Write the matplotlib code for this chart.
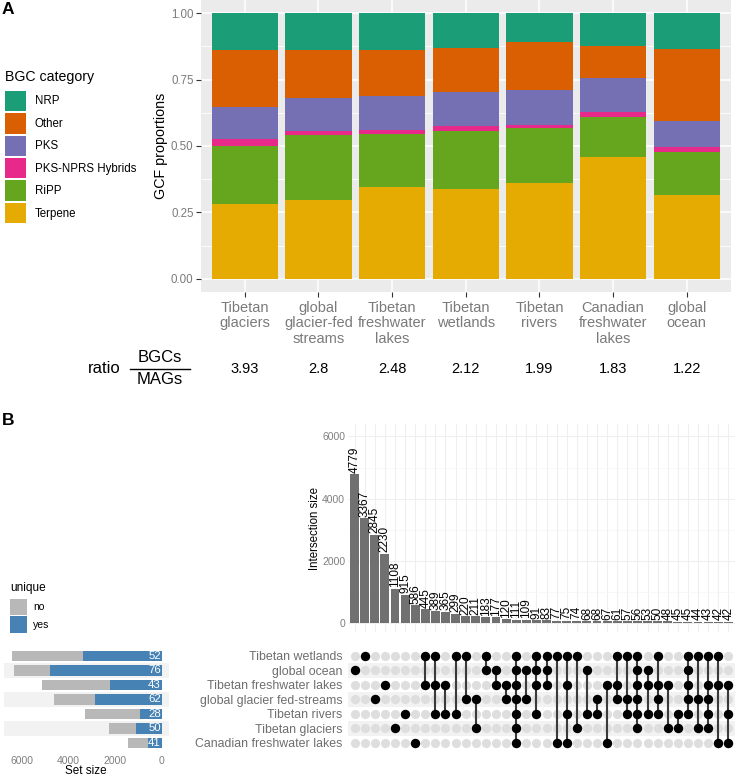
import matplotlib
matplotlib.use("Agg")
import matplotlib.pyplot as plt
from matplotlib.patches import Patch
from matplotlib.lines import Line2D

plt.rcParams['font.family'] = ['Liberation Sans', 'DejaVu Sans']

W, H = 735, 777

# panel A
sites = ["Tibetan\nglaciers", "global\nglacier-fed\nstreams", "Tibetan\nfreshwater\nlakes", "Tibetan\nwetlands",
         "Tibetan\nrivers", "Canadian\nfreshwater\nlakes", "global\nocean"]
ratios = ["3.93", "2.8", "2.48", "2.12", "1.99", "1.83", "1.22"]
categories = ["NRP", "Other", "PKS", "PKS-NPRS Hybrids", "RiPP", "Terpene"]
cat_colors = ["#1B9E77", "#D95F02", "#7570B3", "#E7298A", "#66A61E", "#E6AB02"]
terpene = [0.28, 0.295, 0.345, 0.338, 0.362, 0.457, 0.315]
ripp = [0.22, 0.245, 0.202, 0.217, 0.205, 0.153, 0.162]
hybrids = [0.025, 0.015, 0.015, 0.02, 0.013, 0.017, 0.018]
pks = [0.122, 0.125, 0.128, 0.13, 0.13, 0.13, 0.098]
other = [0.213, 0.183, 0.172, 0.165, 0.183, 0.121, 0.274]
nrp = [0.14, 0.137, 0.138, 0.13, 0.107, 0.122, 0.133]

# panel B
set_names = ["Tibetan wetlands", "global ocean", "Tibetan freshwater lakes", "global glacier fed-streams",
             "Tibetan rivers", "Tibetan glaciers", "Canadian freshwater lakes"]
set_total = [6424, 6310, 5139, 4596, 3284, 2241, 1428]
set_unique = [3367, 4779, 2230, 2845, 915, 1108, 586]
set_pct = [52, 76, 43, 62, 28, 50, 41]
inter_size = [4779, 3367, 2845, 2230, 1108, 915, 586, 445, 389, 365, 299, 220, 211, 183, 177, 120, 111, 109, 91,
              83, 77, 75, 74, 68, 68, 67, 61, 57, 56, 53, 50, 48, 45, 45, 44, 43, 42, 42]
# rows set in each column, 0 = Tibetan wetlands ... 6 = Canadian freshwater lakes
inter_sets = [[1], [0], [3], [2], [5], [4], [6], [0, 2], [0, 2, 4], [2, 4], [0, 4], [0, 3], [3, 5], [0, 1], [1, 2],
              [2, 3], [0, 1, 2, 3, 4, 5, 6], [1, 3], [0, 1, 2, 4], [0, 1, 2], [0, 6], [0, 2, 4, 6], [0, 5], [1, 4],
              [3, 4], [2, 6], [0, 2, 3], [0, 3, 4], [0, 1, 2, 3, 4, 5], [1, 2, 4], [0, 2, 3, 4], [2, 5], [4, 5],
              [0, 1, 2, 3, 4], [0, 3, 5], [0, 2, 3, 4, 5], [0, 2, 6], [2, 4, 6]]


def add_ax(x0, y0, x1, y1):
    # pixel box of the reference, y from the top
    return fig.add_axes([x0 / W, 1 - y1 / H, (x1 - x0) / W, (y1 - y0) / H])


fig = plt.figure(figsize=(W / 100, H / 100), dpi=100)

# ---- A: stacked bars
ax = add_ax(200.5, 0, 731, 292)
ax.set_facecolor("#EBEBEB")
xs = list(range(len(sites)))
stack = [terpene, ripp, hybrids, pks, other, nrp]
bottom = [0] * len(sites)
for vals, col in zip(stack, cat_colors[::-1]):
    ax.bar(xs, vals, 0.9, bottom=bottom, color=col, zorder=3)
    bottom = [b + v for b, v in zip(bottom, vals)]
ax.set_xlim(-0.6, 6.6)
ax.set_ylim(-0.05, 1.05)
ax.set_yticks([0, 0.25, 0.5, 0.75, 1.0], ["0.00", "0.25", "0.50", "0.75", "1.00"])
ax.set_yticks([0.125, 0.375, 0.625, 0.875], minor=True)
ax.set_xticks(xs, sites)
ax.grid(True, which="major", color="white", lw=1.1, zorder=1)
ax.grid(True, which="minor", axis="y", color="white", lw=0.6, zorder=1)
ax.tick_params(axis="y", which="minor", length=0)
ax.tick_params(axis="both", which="major", color="#333333", labelcolor="#7A7A7A", length=3.5, width=0.8)
ax.tick_params(axis="y", labelsize=8.3, pad=1.5)
ax.tick_params(axis="x", labelsize=10.5, pad=3)
for lab in ax.get_xticklabels():
    lab.set_linespacing(1.12)
for s in ax.spines.values():
    s.set_visible(False)
ax.set_ylabel("GCF proportions", fontsize=10.3)
ax.yaxis.set_label_coords(-0.062, 0.5)

for x, r in zip(xs, ratios):
    fig.text((245 + 73.6 * x) / W, 1 - 369 / H, r, fontsize=10.5, ha="center", va="center")
fig.text(88 / W, 1 - 369 / H, "ratio", fontsize=12, ha="left", va="center")
fig.text(160 / W, 1 - 358 / H, "BGCs", fontsize=12, ha="center", va="center")
fig.text(160 / W, 1 - 379 / H, "MAGs", fontsize=12, ha="center", va="center")
fig.add_artist(Line2D([130 / W, 190 / W], [1 - 368.5 / H] * 2, color="black", lw=1))

handles = [Patch(facecolor=c, edgecolor="none", label=n) for c, n in zip(cat_colors, categories)]
leg = fig.legend(handles=handles, title="BGC category", loc="upper left", bbox_to_anchor=(2 / W, 1 - 67 / H),
                 frameon=False, fontsize=8.3, title_fontsize=10.2, handlelength=1.74, handleheight=2.36,
                 labelspacing=0.17, handletextpad=0.78, borderaxespad=0, borderpad=0.3)
leg._legend_box.align = "left"
leg._legend_box.sep = 4.4

# ---- B: intersection bars
cols = list(range(1, len(inter_size) + 1))
ax2 = add_ax(348, 424, 735, 632)
ax2.bar(cols, inter_size, 0.88, color="#707070", zorder=3)
for c, v in zip(cols, inter_size):
    ax2.text(c, v + 40, str(v), rotation=90, ha="center", va="bottom", fontsize=8.5, zorder=4)
ax2.set_xlim(0.35, 38.66)
ax2.set_ylim(-290, 6400)
ax2.set_yticks([0, 2000, 4000, 6000])
ax2.set_yticks([1000, 3000, 5000], minor=True)
ax2.set_xticks(cols, [""] * len(cols))
ax2.grid(True, which="major", color="#EFEFEF", lw=0.8, zorder=1)
ax2.grid(True, which="minor", axis="y", color="#F5F5F5", lw=0.5, zorder=1)
ax2.tick_params(axis="both", which="both", length=0)
ax2.tick_params(axis="y", labelsize=7.5, labelcolor="#7F7F7F", pad=2)
for s in ax2.spines.values():
    s.set_visible(False)
ax2.set_ylabel("Intersection size", fontsize=8.3)
ax2.yaxis.set_label_coords(-0.07, 0.5)

# ---- B: dot matrix
ax3 = add_ax(348, 648.7, 735, 750.2)
rows = list(range(len(set_names)))
for r in rows:
    if r % 2 == 1:
        ax3.axhspan(r - 0.5, r + 0.5, color="#F2F2F2", lw=0, zorder=0)
    ax3.scatter(cols, [r] * len(cols), s=44, color="#DEDEDE", lw=0, zorder=1)
for c, members in zip(cols, inter_sets):
    ax3.plot([c, c], [min(members), max(members)], color="#3A3A3A", lw=1.5, zorder=2)
    ax3.scatter([c] * len(members), members, s=46, color="black", lw=0, zorder=3)
ax3.set_xlim(0.35, 38.66)
ax3.set_ylim(6.5, -0.5)
ax3.set_xticks([])
ax3.set_yticks(rows, set_names)
ax3.tick_params(axis="y", length=0, labelsize=8.9, labelcolor="#6E6E6E", pad=4)
for s in ax3.spines.values():
    s.set_visible(False)

# ---- B: set sizes
ax4 = add_ax(4, 648.7, 169, 750.2)
for r in rows:
    if r % 2 == 1:
        ax4.axhspan(r - 0.5, r + 0.5, color="#F2F2F2", lw=0, zorder=0)
ax4.barh(rows, set_total, 0.72, color="#B8B8B8", zorder=2)
ax4.barh(rows, set_unique, 0.72, color="#4682B4", zorder=3)
for r, p in zip(rows, set_pct):
    ax4.text(40, r, str(p), color="white", ha="right", va="center", fontsize=8.2, zorder=4)
ax4.set_xlim(6754, -313)
ax4.set_ylim(6.5, -0.5)
ax4.set_yticks([])
ax4.set_xticks([6000, 4000, 2000, 0])
ax4.tick_params(axis="x", length=0, labelsize=7.5, labelcolor="#7F7F7F", pad=4)
for s in ax4.spines.values():
    s.set_visible(False)
fig.text(86 / W, 1 - 771.5 / H, "Set size", fontsize=8.4, ha="center", va="center")

handles2 = [Patch(facecolor="#B8B8B8", edgecolor="none", label="no"),
            Patch(facecolor="#4682B4", edgecolor="none", label="yes")]
leg2 = fig.legend(handles=handles2, title="unique", loc="upper left", bbox_to_anchor=(8 / W, 1 - 580 / H),
                  frameon=False, fontsize=7.5, title_fontsize=8.6, handlelength=1.63, handleheight=2.06,
                  labelspacing=0.14, handletextpad=0.58, borderaxespad=0, borderpad=0.2)
leg2._legend_box.align = "left"
leg2._legend_box.sep = 3.2

fig.text(2 / W, 1 - 9 / H, "A", fontsize=12.5, fontweight="bold", ha="left", va="center")
fig.text(2 / W, 1 - 421 / H, "B", fontsize=12.5, fontweight="bold", ha="left", va="center")

fig.savefig("out.png", dpi=100)
